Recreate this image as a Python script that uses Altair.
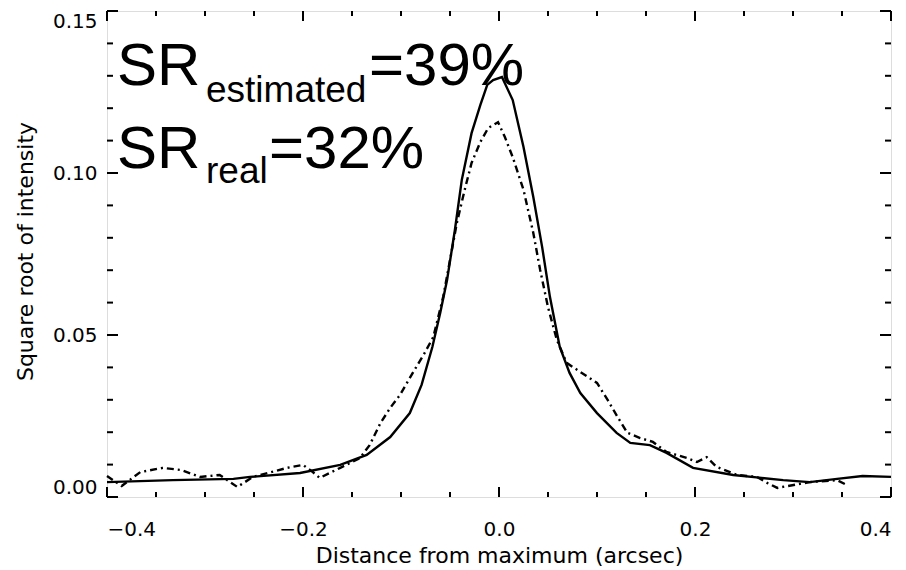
import altair as alt
import pandas as pd

# ---- data ----
solid_x = [-0.400, -0.333, -0.271, -0.254, -0.203, -0.162, -0.135, -0.111, -0.091, -0.079,
           -0.068, -0.060, -0.053, -0.045, -0.038, -0.028, -0.019, -0.012, -0.006, 0.003,
           0.014, 0.025, 0.035, 0.044, 0.052, 0.062, 0.072, 0.083, 0.100, 0.120,
           0.134, 0.154, 0.171, 0.198, 0.239, 0.290, 0.317, 0.345, 0.371, 0.400]
solid_y = [0.0046, 0.0052, 0.0056, 0.0062, 0.0074, 0.0099, 0.0130, 0.0185, 0.0259, 0.0346,
           0.0463, 0.0568, 0.0670, 0.0824, 0.0978, 0.1123, 0.1210, 0.1272, 0.1287, 0.1296,
           0.1225, 0.1080, 0.0926, 0.0772, 0.0617, 0.0463, 0.0383, 0.0321, 0.0259, 0.0198,
           0.0167, 0.0160, 0.0136, 0.0090, 0.0068, 0.0052, 0.0046, 0.0056, 0.0065, 0.0062]

dd_x = [-0.400, -0.385, -0.366, -0.343, -0.324, -0.305, -0.285, -0.267, -0.251, -0.216,
        -0.200, -0.190, -0.183, -0.162, -0.142, -0.132, -0.121, -0.111, -0.101, -0.088,
        -0.076, -0.067, -0.057, -0.050, -0.043, -0.035, -0.028, -0.019, -0.011, -0.001,
        0.006, 0.014, 0.025, 0.035, 0.042, 0.050, 0.059, 0.069, 0.083, 0.100,
        0.111, 0.121, 0.131, 0.144, 0.157, 0.171, 0.192, 0.202, 0.212, 0.222,
        0.243, 0.263, 0.274, 0.284, 0.317, 0.345, 0.355]
dd_y = [0.0065, 0.0034, 0.0077, 0.0090, 0.0083, 0.0062, 0.0068, 0.0031, 0.0062, 0.0090,
        0.0099, 0.0077, 0.0059, 0.0090, 0.0120, 0.0160, 0.0228, 0.0275, 0.0315, 0.0383,
        0.0444, 0.0494, 0.0617, 0.0731, 0.0846, 0.0948, 0.1031, 0.1096, 0.1139, 0.1157,
        0.1111, 0.1049, 0.0948, 0.0815, 0.0701, 0.0586, 0.0485, 0.0414, 0.0386, 0.0352,
        0.0299, 0.0247, 0.0198, 0.0182, 0.0170, 0.0139, 0.0120, 0.0108, 0.0123, 0.0093,
        0.0068, 0.0062, 0.0043, 0.0028, 0.0046, 0.0052, 0.0037]

x_major = [-0.4, -0.2, 0.0, 0.2, 0.4]
x_minor = [-0.35, -0.3, -0.25, -0.15, -0.1, -0.05, 0.05, 0.1, 0.15, 0.25, 0.3, 0.35]
y_major = [0.0, 0.05, 0.10, 0.15]
y_minor = [0.01, 0.02, 0.03, 0.04, 0.06, 0.07, 0.08, 0.09, 0.11, 0.12, 0.13, 0.14]

x_title = "Distance from maximum (arcsec)"
y_title = "Square root of intensity"

# ---- layout ----
W, H = 784, 486
AXFONT = "DejaVu Sans"

xs = alt.Scale(domain=[-0.4, 0.4], nice=False, zero=False)
ys = alt.Scale(domain=[0, 0.15], nice=False, zero=False)

solid_df = pd.DataFrame({"x": solid_x, "y": solid_y})
dd_df = pd.DataFrame({"x": dd_x, "y": dd_y})

x_axis = alt.Axis(values=x_major, format=".1f", title=x_title, grid=False, ticks=False,
                  domain=False, labelPadding=22, labelFontSize=20, labelFont=AXFONT,
                  labelColor="black", titleFont=AXFONT, titleFontSize=22,
                  titleFontWeight="normal", titleColor="black", titleY=65,
                  titleBaseline="alphabetic", titleX=W / 2)
y_axis = alt.Axis(values=y_major, format=".2f", title=y_title, grid=False, ticks=False,
                  domain=False, labelPadding=10, labelFontSize=20, labelFont=AXFONT,
                  labelColor="black", labelFlush=True, titleFont=AXFONT, titleFontSize=22,
                  titleFontWeight="normal", titleColor="black", titleX=-82, titleY=240,
                  titleAngle=-90, titleAlign="center", titleBaseline="middle")

solid = alt.Chart(solid_df).mark_line(color="black", strokeWidth=2.4).encode(
    x=alt.X("x:Q", scale=xs, axis=x_axis),
    y=alt.Y("y:Q", scale=ys, axis=y_axis),
)
dashdot = alt.Chart(dd_df).mark_line(color="black", strokeWidth=2.4,
                                     strokeDash=[7, 4, 2, 4]).encode(
    x=alt.X("x:Q", scale=xs),
    y=alt.Y("y:Q", scale=ys),
)

def xticks(vals, length):
    d = pd.DataFrame({"x": vals})
    bottom = alt.Chart(d).mark_rule(color="black", strokeWidth=2).encode(
        x=alt.X("x:Q", scale=xs), y=alt.value(H), y2=alt.value(H - length))
    top = alt.Chart(d).mark_rule(color="black", strokeWidth=2).encode(
        x=alt.X("x:Q", scale=xs), y=alt.value(0), y2=alt.value(length))
    return [bottom, top]

def yticks(vals, length):
    d = pd.DataFrame({"y": vals})
    left = alt.Chart(d).mark_rule(color="black", strokeWidth=2).encode(
        y=alt.Y("y:Q", scale=ys), x=alt.value(0), x2=alt.value(length))
    right = alt.Chart(d).mark_rule(color="black", strokeWidth=2).encode(
        y=alt.Y("y:Q", scale=ys), x=alt.value(W), x2=alt.value(W - length))
    return [left, right]

ticks = xticks(x_major, 10) + xticks(x_minor, 5) + yticks(y_major, 11) + yticks(y_minor, 6)

# ---- annotations (SR values) ----
ann_big = ["SR", "=39%", "SR", "=32%"]
ann_small = ["estimated", "real"]
TFONT = "Liberation Sans"

def txt(s, px, py, size):
    return alt.Chart(pd.DataFrame({"t": [s]})).mark_text(
        font=TFONT, fontSize=size, align="left", baseline="alphabetic", color="black"
    ).encode(text="t:N", x=alt.value(px), y=alt.value(py))

texts = [
    txt(ann_big[0], 10, 74, 60),
    txt(ann_small[0], 99, 91, 37),
    txt(ann_big[1], 262, 74, 60),
    txt(ann_big[2], 10, 157, 60),
    txt(ann_small[1], 99, 172, 37),
    txt(ann_big[3], 162, 157, 60),
]

chart = alt.layer(solid, dashdot, *ticks, *texts).properties(
    width=W, height=H,
    autosize=alt.AutoSizeParams(type="none"),
    padding={"left": 99, "top": 3, "right": 7, "bottom": 72},
).configure_view(stroke="black", strokeWidth=2.5).configure(background="white")

chart.save("out.html", embed_options={"renderer": "svg", "actions": False})
